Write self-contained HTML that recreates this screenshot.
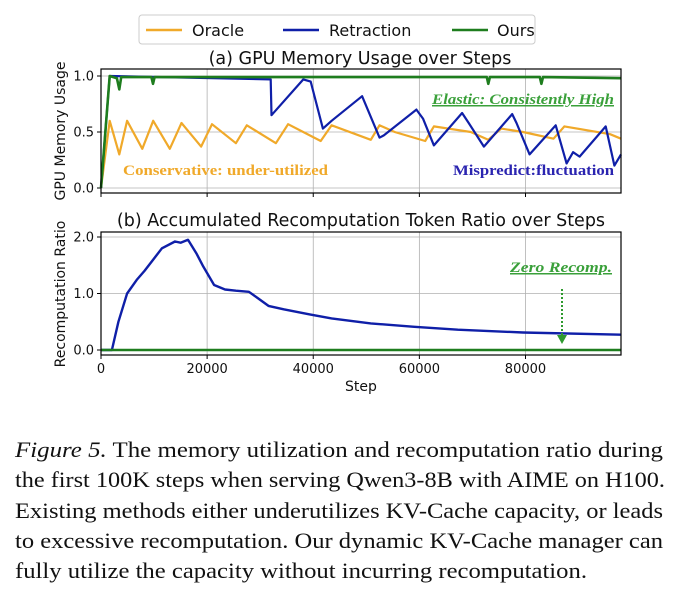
<!DOCTYPE html>
<html><head><meta charset="utf-8"><style>
html,body{margin:0;padding:0;background:#fff;}
svg{display:block;}
text{font-family:"DejaVu Sans","Liberation Sans",sans-serif;}
.cap{font-family:"Liberation Serif",serif;font-size:22px;fill:#111;}
.ann{font-family:"Liberation Serif",serif;font-weight:bold;font-size:15px;}
</style></head><body>
<svg id="fig" width="684" height="593" viewBox="0 0 684 593" xmlns="http://www.w3.org/2000/svg">
<g id="chartA"></g>
<g id="chartB"></g>
<g>
<rect x="139" y="15" width="396" height="29" rx="3" fill="#fff" stroke="#ccc"/>
<line x1="146" y1="30" x2="182" y2="30" stroke="#f0a92a" stroke-width="2.5"/>
<text x="192" y="36" font-size="16" fill="#111">Oracle</text>
<line x1="283" y1="30" x2="319" y2="30" stroke="#0f1fa8" stroke-width="2.5"/>
<text x="329" y="36" font-size="16" fill="#111">Retraction</text>
<line x1="452" y1="30" x2="488" y2="30" stroke="#1e7d1e" stroke-width="2.5"/>
<text x="497" y="36" font-size="16" fill="#111">Ours</text>
</g>
<g>
<text class="cap" x="15" y="457" textLength="648" lengthAdjust="spacingAndGlyphs"><tspan font-style="italic">Figure 5.</tspan> The memory utilization and recomputation ratio during</text>
<text class="cap" x="15" y="487" textLength="650" lengthAdjust="spacingAndGlyphs">the first 100K steps when serving Qwen3-8B with AIME on H100.</text>
<text class="cap" x="15" y="518" textLength="648" lengthAdjust="spacingAndGlyphs">Existing methods either underutilizes KV-Cache capacity, or leads</text>
<text class="cap" x="15" y="548" textLength="648" lengthAdjust="spacingAndGlyphs">to excessive recomputation. Our dynamic KV-Cache manager can</text>
<text class="cap" x="15" y="578" textLength="572" lengthAdjust="spacingAndGlyphs">fully utilize the capacity without incurring recomputation.</text>
</g>
</svg>
<script>
const xTicks=[0,20000,40000,60000,80000];
const xTickLabels=["0","20000","40000","60000","80000"];
const yTicksA=[0,0.5,1.0];
const yTickLabelsA=["0.0","0.5","1.0"];
const yTicksB=[0,1,2];
const yTickLabelsB=["0.0","1.0","2.0"];
const oracleSteps=[0,1640,3440,4920,7790,9840,12960,15170,18860,20910,25420,27470,32960,35260,41410,43460,50840,52480,55350,61090,62730,69700,72980,75440,79540,85280,87330,95940,98000];
const oracleMem=[0,0.6,0.3,0.6,0.35,0.6,0.35,0.58,0.37,0.57,0.4,0.56,0.4,0.57,0.42,0.56,0.43,0.56,0.5,0.42,0.55,0.5,0.43,0.53,0.5,0.44,0.55,0.48,0.44];
const retrSteps=[0,1640,31980,32140,38130,39520,41820,43460,49200,52480,53300,59450,60680,62730,68060,69290,72160,77490,78310,80770,85690,87740,88970,90200,95120,96760,98000];
const retrMem=[0,1.0,0.97,0.65,0.97,0.95,0.53,0.6,0.82,0.45,0.47,0.7,0.62,0.38,0.67,0.58,0.37,0.66,0.58,0.3,0.56,0.22,0.32,0.28,0.55,0.2,0.3];
const oursSteps=[0,1640,3000,3440,3800,9500,9800,10100,30000,72700,73000,73300,82700,83000,83300,98000];
const oursMem=[0,1.0,0.98,0.88,0.99,0.99,0.93,0.99,0.99,0.99,0.93,0.99,0.99,0.93,0.99,0.98];
const recSteps=[0,1900,2050,3280,4920,6720,8200,9840,11480,13940,15000,16400,18040,19270,21320,23370,25420,27880,29520,31570,34440,39360,43460,50840,59040,67240,79540,98000];
const recRatio=[0,0,0,0.5,1.0,1.24,1.4,1.6,1.8,1.92,1.9,1.95,1.7,1.48,1.15,1.07,1.05,1.03,0.92,0.78,0.72,0.63,0.56,0.47,0.41,0.36,0.31,0.27];
const oursRecSteps=[0,98000];
const oursRec=[0,0];

const NS="http://www.w3.org/2000/svg";
const X0=101,X1=621,XMAX=98000;
function xs(v){return X0+(v/XMAX)*(X1-X0);}
function mk(tag,attrs,parent){const e=document.createElementNS(NS,tag);for(const k in attrs)e.setAttribute(k,attrs[k]);parent.appendChild(e);return e;}
function panel(g,top,bot,y0px,y1px,ymax,yt,ytl,showX){
  const ys=v=>y0px+(v/ymax)*(y1px-y0px);
  xTicks.forEach((t,i)=>{
    if(i>0){const l=mk('line',{x1:xs(t),x2:xs(t),y1:top,y2:bot,stroke:'#b0b0b0','stroke-width':0.8},g);
    
    }
    const tk=mk('line',{x1:xs(t),x2:xs(t),y1:bot,y2:bot+4,stroke:'#000'},g);
    
    
    if(showX){const tx=mk('text',{x:xs(t),y:bot+18,'font-size':13,'text-anchor':'middle',fill:'#111'},g);tx.textContent=xTickLabels[i];
    
    }
  });
  yt.forEach((t,i)=>{
    const l=mk('line',{x1:X0,x2:X1,y1:ys(t),y2:ys(t),stroke:'#b0b0b0','stroke-width':0.8},g);
    
    
    const tk=mk('line',{x1:X0-4,x2:X0,y1:ys(t),y2:ys(t),stroke:'#000'},g);
    
    
    const tx=mk('text',{x:X0-7,y:ys(t)+4.5,'font-size':13,'text-anchor':'end',fill:'#111'},g);tx.textContent=ytl[i];
    
    
  });
  return ys;
}
function series(g,xsArr,ysArr,ys,color,w,name){
  const d=xsArr.map((s,i)=>(i?'L':'M')+xs(s).toFixed(1)+','+ys(ysArr[i]).toFixed(1)).join('');
  const p=mk('path',{d:d,fill:'none',stroke:color,'stroke-width':w,'stroke-linejoin':'round'},g);
  
  
}
const gA=document.getElementById('chartA');
const ysA=panel(gA,69,193,188,76,1.0,yTicksA,yTickLabelsA,false);
series(gA,oracleSteps,oracleMem,ysA,'#f0a92a',2.2,'oracle-line');
series(gA,retrSteps,retrMem,ysA,'#0f1fa8',2.2,'retraction-line');
series(gA,oursSteps,oursMem,ysA,'#1e7d1e',2.6,'ours-line');
const fa=mk('rect',{x:X0,y:69,width:X1-X0,height:124,fill:'none',stroke:'#000','stroke-width':1.2},gA);


const gB=document.getElementById('chartB');
const ysB=panel(gB,232,355,350,237,2.0,yTicksB,yTickLabelsB,true);
series(gB,recSteps,recRatio,ysB,'#0f1fa8',2.4,'retraction-recompute-line');
series(gB,oursRecSteps,oursRec,ysB,'#1e7d1e',2.4,'ours-recompute-line');
const fb=mk('rect',{x:X0,y:232,width:X1-X0,height:123,fill:'none',stroke:'#000','stroke-width':1.2},gB);


</script>
<script>
const fig=document.getElementById('fig');
fig.insertAdjacentHTML('beforeend',`
<text x="360" y="64" font-size="17.5" text-anchor="middle" fill="#111">(a) GPU Memory Usage over Steps</text>
<text x="361" y="226" font-size="17.5" text-anchor="middle" fill="#111">(b) Accumulated Recomputation Token Ratio over Steps</text>
<text transform="translate(65,131) rotate(-90)" font-size="14" text-anchor="middle" fill="#111">GPU Memory Usage</text>
<text transform="translate(65,294) rotate(-90)" font-size="14" text-anchor="middle" fill="#111">Recomputation Ratio</text>
<text x="361" y="391" font-size="14" text-anchor="middle" fill="#111">Step</text>
<text class="ann" x="432" y="104" font-style="italic" fill="#3aa03a" text-decoration="underline" textLength="182" lengthAdjust="spacingAndGlyphs">Elastic: Consistently High</text>
<text class="ann" x="123" y="175" fill="#f0a92a" textLength="205" lengthAdjust="spacingAndGlyphs">Conservative: under-utilized</text>
<text class="ann" x="453" y="175" fill="#2a24b0" textLength="161" lengthAdjust="spacingAndGlyphs">Mispredict:fluctuation</text>
<text class="ann" x="510" y="272" font-style="italic" fill="#3aa03a" text-decoration="underline" textLength="102" lengthAdjust="spacingAndGlyphs">Zero Recomp.</text>
<line x1="562" y1="289" x2="562" y2="336" stroke="#2e9a2e" stroke-width="2" stroke-dasharray="2,2"/>
<path d="M557,335 L567,335 L562,344 Z" fill="#2e9a2e"/>
`);
</script>
</body></html>
